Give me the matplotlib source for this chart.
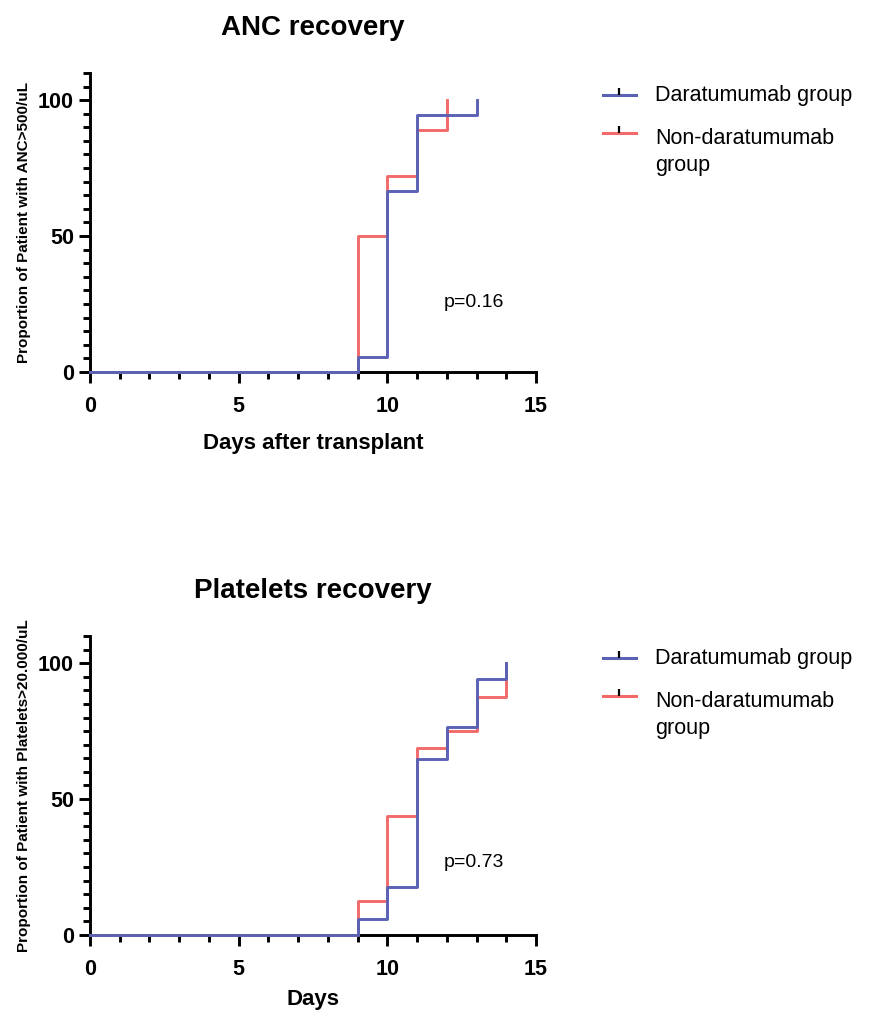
import matplotlib
matplotlib.use("Agg")
import matplotlib.pyplot as plt
from matplotlib.lines import Line2D
from matplotlib.ticker import MultipleLocator

plt.rcParams['font.family'] = ['Liberation Sans', 'DejaVu Sans']

BLUE = "#5a62b4"
RED = "#f26a6a"

# ANC recovery (cumulative %, step after each day)
anc_days_dara = [0, 9, 10, 11, 13]
anc_dara = [0, 5.6, 66.7, 94.4, 100]
anc_days_non = [0, 9, 10, 11, 12]
anc_non = [0, 50.0, 72.2, 88.9, 100]

# Platelets recovery
plt_days_dara = [0, 9, 10, 11, 12, 13, 14]
plt_dara = [0, 5.9, 17.6, 64.7, 76.5, 94.1, 100]
plt_days_non = [0, 9, 10, 11, 12, 13, 14]
plt_non = [0, 12.5, 43.75, 68.75, 75.0, 87.5, 100]

labels = ["Daratumumab group", "Non-daratumumab\ngroup"]
colors = [BLUE, RED]

fig = plt.figure(figsize=(8.74, 10.13), dpi=100)


def legend(ax):
    # hand-made legend, handles aligned with the first text line
    ys = [0.926, 0.799]
    ty = [0.926, 0.736]
    for c, lab, y, t in zip(colors, labels, ys, ty):
        ax.add_line(Line2D([1.150, 1.224], [y, y], color=c, lw=2.2,
                           transform=ax.transAxes, clip_on=False))
        ax.add_line(Line2D([1.187], [y], marker=2, markersize=5, color="black",
                           markeredgewidth=1.6, transform=ax.transAxes, clip_on=False))
        ax.text(1.267, t, lab, transform=ax.transAxes, fontsize=15.5,
                va="center", ha="left", linespacing=1.4)


def panel(rect, days_d, vals_d, days_n, vals_n, title, xlabel, ylabel, ptext, py, lpad):
    ax = fig.add_axes(rect)
    ax.step(days_n, vals_n, where="post", color=RED, lw=2.1, clip_on=False, zorder=3)
    ax.step(days_d, vals_d, where="post", color=BLUE, lw=2.1, clip_on=False, zorder=4)
    ax.set_xlim(0, 15)
    ax.set_ylim(0, 110)
    ax.set_xticks([0, 5, 10, 15])
    ax.set_yticks([0, 50, 100])
    ax.xaxis.set_minor_locator(MultipleLocator(1))
    ax.yaxis.set_minor_locator(MultipleLocator(5))
    for s in ["top", "right"]:
        ax.spines[s].set_visible(False)
    for s in ["left", "bottom"]:
        ax.spines[s].set_linewidth(2.1)
    ax.tick_params(which="major", length=8, width=2.1, labelsize=15.5, direction="out")
    ax.tick_params(axis="x", which="major", pad=9)
    ax.tick_params(which="minor", length=5, width=2.1, direction="out")
    for t in ax.get_xticklabels() + ax.get_yticklabels():
        t.set_fontweight("bold")
    ax.set_title(title, fontsize=20, fontweight="bold", pad=27)
    ax.set_xlabel(xlabel, fontsize=16, fontweight="bold", labelpad=lpad)
    ax.set_ylabel(ylabel, fontsize=11, fontweight="bold", labelpad=5)
    ax.text(11.9, py, ptext, fontsize=14)
    legend(ax)
    return ax


panel([0.103, 0.6328, 0.5103, 0.2952], anc_days_dara, anc_dara, anc_days_non, anc_non,
      "ANC recovery", "Days after transplant", "Proportion of Patient with ANC>500/uL",
      "p=0.16", 24, 12)
panel([0.103, 0.077, 0.5103, 0.2952], plt_days_dara, plt_dara, plt_days_non, plt_non,
      "Platelets recovery", "Days", "Proportion of Patient with Platelets>20.000/uL",
      "p=0.73", 25, 7)

fig.savefig("out.png", dpi=100)
